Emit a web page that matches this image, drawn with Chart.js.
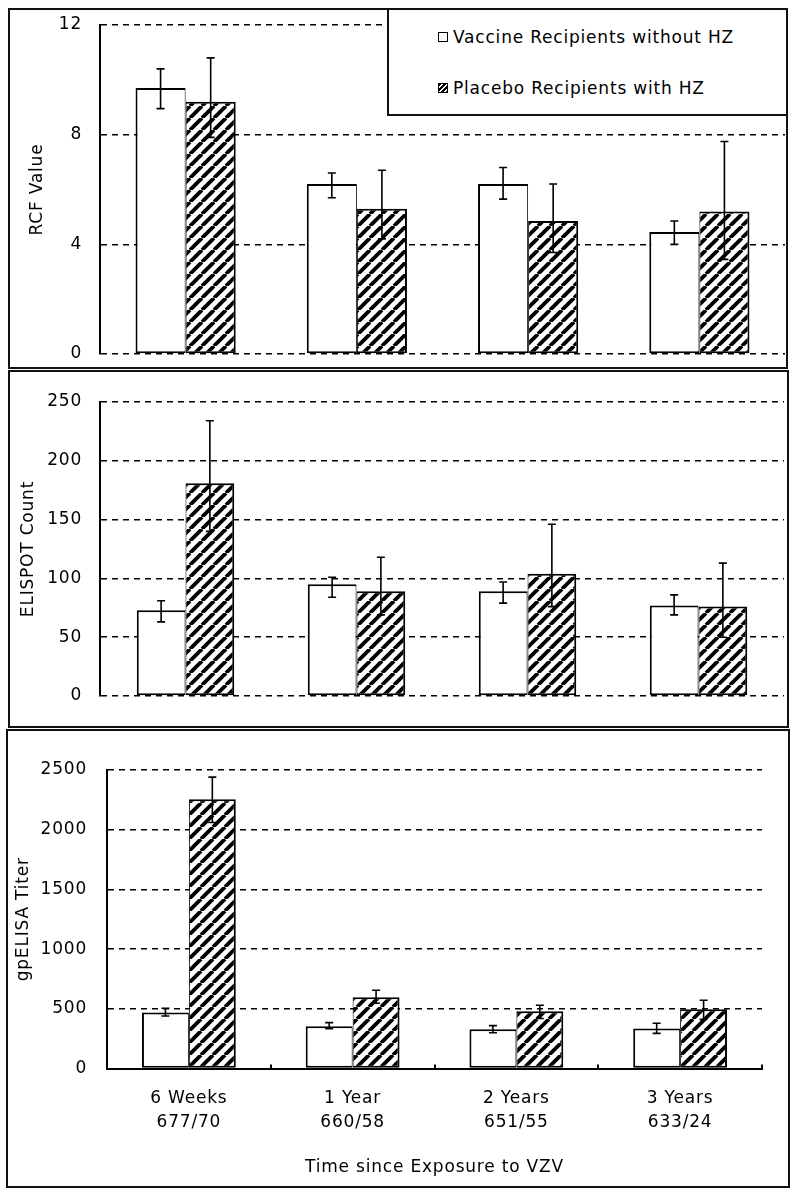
<!DOCTYPE html>
<html>
<head>
<meta charset="utf-8">
<script src="https://cdn.jsdelivr.net/npm/chart.js@4.4.0/dist/chart.umd.min.js"></script>
<style>
  body { margin: 0; background: #fff; width: 796px; height: 1200px; position: relative; font-family: 'DejaVu Sans', sans-serif; }
  .frame { position: absolute; border: 2px solid #111; box-sizing: border-box; background: #fff; }
  canvas { position: absolute; }
  #legend { position: absolute; left: 387px; top: 8px; width: 401px; height: 108px; border: 2px solid #111;
            box-sizing: border-box; background: #fff; font-size: 17px; letter-spacing: 0.8px; color: #000; }
  .item { position: absolute; left: 49px; height: 20px; line-height: 20px; display: flex; align-items: center; white-space: nowrap; }
  .box { width: 8px; height: 8px; border: 1.5px solid #000; margin-right: 5px; background: #fff; }
  .box.hatched { background: repeating-linear-gradient(135deg, #000 0 2px, #fff 2px 3.5px); }
</style>
</head>
<body>
<div class="frame" style="left:8px;top:8px;width:780px;height:361px"></div>
<div class="frame" style="left:8px;top:370px;width:781px;height:358px"></div>
<div class="frame" style="left:6px;top:729px;width:784px;height:459px"></div>

<canvas id="rcf" width="776" height="357" style="left:10px;top:10px"></canvas>
<canvas id="elispot" width="776" height="352" style="left:10px;top:373px"></canvas>
<canvas id="gpelisa" width="778" height="453" style="left:9px;top:731px"></canvas>

<div id="legend">
  <div class="item" style="top:17px"><span class="box"></span><span id="lg0"></span></div>
  <div class="item" style="top:68px"><span class="box hatched"></span><span id="lg1"></span></div>
</div>

<script>
// series + categories
const seriesNames = ["Vaccine Recipients without HZ", "Placebo Recipients with HZ"];
const timepoints = ["6 Weeks", "1 Year", "2 Years", "3 Years"];
const sampleSizes = ["677/70", "660/58", "651/55", "633/24"];
const xTitle = "Time since Exposure to VZV";

// RCF panel
const rcfVaccine   = [9.7, 6.2, 6.2, 4.45];
const rcfVaccineLo = [8.95, 5.7, 5.65, 4.0];
const rcfVaccineHi = [10.4, 6.6, 6.8, 4.85];
const rcfPlacebo   = [9.2, 5.3, 4.85, 5.2];
const rcfPlaceboLo = [7.9, 4.2, 3.7, 3.45];
const rcfPlaceboHi = [10.8, 6.7, 6.2, 7.75];

// ELISPOT panel
const elispotVaccine   = [73, 95, 89, 77];
const elispotVaccineLo = [63, 84, 79, 69];
const elispotVaccineHi = [81, 101, 97, 86];
const elispotPlacebo   = [181, 89, 104, 76];
const elispotPlaceboLo = [140, 69, 76, 50];
const elispotPlaceboHi = [234, 118, 146, 113];

// gpELISA panel
const gpVaccine   = [470, 355, 330, 335];
const gpVaccineLo = [440, 335, 300, 295];
const gpVaccineHi = [505, 385, 360, 380];
const gpPlacebo   = [2255, 598, 480, 497];
const gpPlaceboLo = [2060, 547, 420, 412];
const gpPlaceboHi = [2440, 656, 530, 572];

document.getElementById('lg0').textContent = seriesNames[0];
document.getElementById('lg1').textContent = seriesNames[1];

Chart.defaults.font.family = "'DejaVu Sans', sans-serif";
Chart.defaults.font.size = 17;
Chart.defaults.color = '#000';

const labels = timepoints.map((t, i) => [t, sampleSizes[i]]);

// diagonal hatch fill
function makeHatch(ctx) {
    const p = 12, t = document.createElement('canvas');
    t.width = t.height = p;
    const g = t.getContext('2d');
    g.fillStyle = '#fff'; g.fillRect(0, 0, p, p);
    g.strokeStyle = '#000'; g.lineWidth = 3.8;
    g.beginPath();
    [-p, 0, p].forEach(k => { g.moveTo(k, p); g.lineTo(k + p, 0); });
    g.stroke();
    return ctx.createPattern(t, 'repeat');
}

// whiskers drawn from each dataset's lo/hi through the y scale
const errorBars = {
    id: 'errorBars',
    afterDatasetsDraw(chart) {
        const { ctx } = chart;
        const y = chart.scales.y;
        chart.data.datasets.forEach((ds, i) => {
            chart.getDatasetMeta(i).data.forEach((bar, j) => {
                const top = y.getPixelForValue(ds.hi[j]);
                const bot = y.getPixelForValue(ds.lo[j]);
                ctx.save();
                ctx.strokeStyle = '#000';
                ctx.lineWidth = 1.6;
                ctx.beginPath();
                ctx.moveTo(bar.x, top); ctx.lineTo(bar.x, bot);
                ctx.moveTo(bar.x - 4, top); ctx.lineTo(bar.x + 4, top);
                ctx.moveTo(bar.x - 4, bot); ctx.lineTo(bar.x + 4, bot);
                ctx.stroke();
                ctx.restore();
            });
        });
    }
};

// the original uses a wide-set font
const spacing = {
    id: 'spacing',
    beforeUpdate(c) { c.ctx.letterSpacing = '0.8px'; },
    beforeDraw(c) { c.ctx.letterSpacing = '0.8px'; }
};

function panel(id, cfg) {
    const el = document.getElementById(id);
    const hatch = makeHatch(el.getContext('2d'));
    return new Chart(el, {
        type: 'bar',
        data: {
            labels,
            datasets: [
                { label: seriesNames[0], data: cfg.vac, lo: cfg.vacLo, hi: cfg.vacHi,
                  backgroundColor: '#fff', borderColor: '#000', borderSkipped: false,
                  borderWidth: { top: 2, left: 2, bottom: 2, right: 1 } },
                { label: seriesNames[1], data: cfg.pla, lo: cfg.plaLo, hi: cfg.plaHi,
                  backgroundColor: hatch, borderColor: '#000', borderSkipped: false,
                  borderWidth: { top: 2, left: 1, bottom: 2, right: 2 } }
            ]
        },
        options: {
            responsive: false,
            animation: false,
            categoryPercentage: cfg.catPct,
            barPercentage: 1,
            layout: { padding: cfg.pad },
            plugins: { legend: { display: false }, tooltip: { enabled: false } },
            scales: {
                x: cfg.x,
                y: {
                    min: 0, max: cfg.max,
                    afterFit: s => { s.width = cfg.yw; },
                    // gap to the axis comes from invisible tick marks, so the
                    // scale does not pad the chart area vertically
                    ticks: { stepSize: cfg.step, padding: 0, color: '#000', callback: v => String(v) },
                    grid: {
                        drawTicks: true, tickLength: cfg.tickGap, tickColor: 'rgba(0,0,0,0)', lineWidth: 1.6,
                        color: c => (cfg.hideZero && c.tick && c.tick.value === 0) ? 'rgba(0,0,0,0)' : '#000'
                    },
                    border: { display: true, color: '#000', width: 2, dash: [6, 5] },
                    title: { display: true, text: cfg.title, color: '#000', padding: { top: cfg.titlePad, bottom: 0 } }
                }
            }
        },
        plugins: [spacing, errorBars]
    });
}

panel('rcf', {
    vac: rcfVaccine, vacLo: rcfVaccineLo, vacHi: rcfVaccineHi,
    pla: rcfPlacebo, plaLo: rcfPlaceboLo, plaHi: rcfPlaceboHi,
    max: 12, step: 4, title: 'RCF Value', titlePad: 17, tickGap: 18, yw: 90,
    catPct: 0.585, pad: { top: 15, right: 1, bottom: 13, left: 0 },
    x: { display: false }
});

panel('elispot', {
    vac: elispotVaccine, vacLo: elispotVaccineLo, vacHi: elispotVaccineHi,
    pla: elispotPlacebo, plaLo: elispotPlaceboLo, plaHi: elispotPlaceboHi,
    max: 250, step: 50, title: 'ELISPOT Count', titlePad: 8, tickGap: 18, yw: 90,
    catPct: 0.57, pad: { top: 29, right: 2, bottom: 29, left: 0 },
    x: { display: false }
});

panel('gpelisa', {
    vac: gpVaccine, vacLo: gpVaccineLo, vacHi: gpVaccineHi,
    pla: gpPlacebo, plaLo: gpPlaceboLo, plaHi: gpPlaceboHi,
    max: 2500, step: 500, title: 'gpELISA Titer', titlePad: 4, tickGap: 20, yw: 98,
    catPct: 0.573, hideZero: true, pad: { top: 39, right: 25, bottom: 0, left: 0 },
    x: {
        ticks: { padding: 22, font: { size: 17, lineHeight: 24 / 17 }, color: '#000', maxRotation: 0, autoSkip: false },
        grid: { drawOnChartArea: false, drawTicks: true, tickLength: -4, color: '#000', lineWidth: 2 },
        border: { display: true, color: '#000', width: 2 },
        title: { display: true, text: xTitle, color: '#000', padding: { top: 1, bottom: 6 } }
    }
});
</script>
</body>
</html>
